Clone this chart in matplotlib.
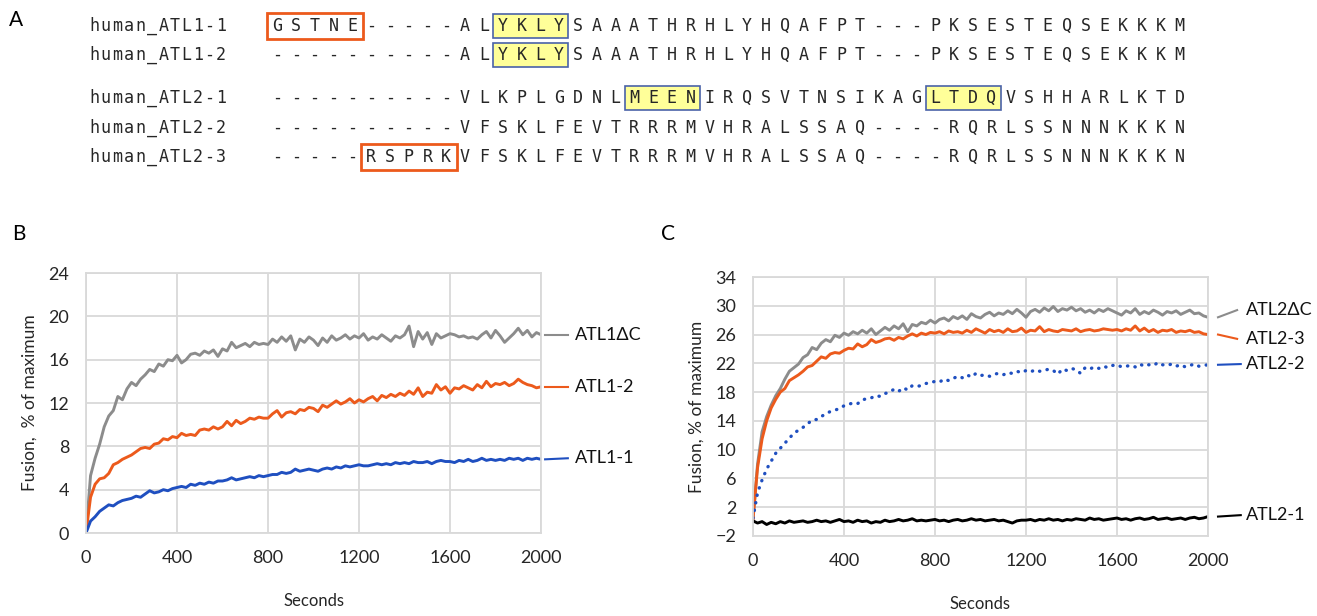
import matplotlib.pyplot as plt
from matplotlib.patches import Rectangle
from matplotlib.transforms import blended_transform_factory
import numpy as np

# ---- panel A: alignment ----
names = ["human_ATL1-1", "human_ATL1-2", "human_ATL2-1", "human_ATL2-2", "human_ATL2-3"]
seqs = [
    "GSTNE-----ALYKLYSAAATHRHLYHQAFPT---PKSESTEQSEKKKM",
    "----------ALYKLYSAAATHRHLYHQAFPT---PKSESTEQSEKKKM",
    "----------VLKPLGDNLMEENIRQSVTNSIKAGLTDQVSHHARLKTD",
    "----------VFSKLFEVTRRRMVHRALSSAQ----RQRLSSNNNKKKN",
    "-----RSPRKVFSKLFEVTRRRMVHRALSSAQ----RQRLSSNNNKKKN",
]
# (row, first residue, last residue)
motif_boxes = [(0, 12, 15), (1, 12, 15), (2, 19, 22), (2, 35, 38)]
extra_boxes = [(0, 0, 4), (4, 5, 9)]

# ---- panel B ----
secs = np.arange(0, 2001, 20)
atl1_dc = [0.0, 5.3, 6.9, 8.2, 9.8, 10.8, 11.3, 12.6, 12.3, 13.3,
           13.9, 13.6, 14.2, 14.6, 15.1, 14.9, 15.6, 15.4, 16.0, 15.9,
           16.4, 15.7, 16.0, 16.5, 16.6, 16.4, 16.8, 16.6, 16.9, 16.3,
           17.0, 16.8, 17.6, 17.1, 17.3, 17.5, 17.2, 17.6, 17.4, 17.5,
           17.4, 17.9, 17.6, 18.1, 17.7, 18.2, 16.9, 17.9, 17.6, 18.1,
           17.8, 17.3, 18.0, 17.6, 18.2, 17.8, 18.0, 18.3, 17.9, 18.2,
           18.0, 18.4, 17.8, 18.1, 17.9, 18.3, 18.0, 17.7, 18.2, 18.0,
           18.3, 19.1, 17.2, 18.6, 17.9, 18.5, 17.4, 18.4, 18.0, 18.2,
           18.4, 18.3, 18.1, 18.2, 18.0, 18.1, 17.9, 18.3, 18.6, 18.0,
           18.7, 18.2, 17.6, 18.0, 18.4, 18.9, 18.3, 18.7, 18.1, 18.5,
           18.3]
atl1_2 = [0.0, 3.3, 4.5, 5.0, 5.1, 5.5, 6.3, 6.5, 6.8, 7.0,
          7.2, 7.5, 7.8, 7.9, 7.8, 8.2, 8.3, 8.7, 8.6, 8.9,
          8.8, 9.2, 9.0, 9.1, 9.0, 9.5, 9.6, 9.5, 9.8, 9.6,
          9.8, 10.3, 9.9, 10.4, 10.1, 10.3, 10.6, 10.5, 10.7, 10.6,
          10.6, 11.0, 11.3, 10.7, 11.1, 11.2, 11.0, 11.4, 11.3, 11.6,
          11.5, 11.2, 11.8, 11.6, 11.9, 12.2, 11.9, 12.1, 12.4, 12.0,
          12.3, 12.1, 12.4, 12.6, 12.2, 12.7, 12.5, 12.8, 12.6, 12.9,
          12.7, 13.1, 12.8, 13.4, 12.6, 13.0, 12.9, 13.7, 13.2, 13.5,
          12.9, 13.4, 13.3, 13.6, 13.4, 13.2, 13.7, 13.4, 14.0, 13.5,
          13.8, 13.7, 13.9, 13.6, 13.8, 14.2, 13.9, 13.7, 13.6, 13.4,
          13.5]
atl1_1 = [0.0, 1.1, 1.5, 2.0, 2.3, 2.6, 2.5, 2.8, 3.0, 3.1,
          3.2, 3.4, 3.3, 3.6, 3.9, 3.7, 3.8, 4.0, 3.9, 4.1,
          4.2, 4.3, 4.2, 4.5, 4.4, 4.6, 4.5, 4.7, 4.6, 4.8,
          4.8, 4.9, 5.1, 4.9, 5.0, 5.1, 5.2, 5.1, 5.3, 5.2,
          5.3, 5.4, 5.4, 5.6, 5.5, 5.6, 5.9, 5.7, 5.8, 5.9,
          5.8, 5.7, 5.9, 6.0, 5.9, 6.1, 6.0, 6.2, 6.1, 6.2,
          6.3, 6.2, 6.2, 6.3, 6.4, 6.3, 6.4, 6.3, 6.5, 6.4,
          6.5, 6.4, 6.6, 6.5, 6.5, 6.6, 6.4, 6.6, 6.7, 6.6,
          6.6, 6.5, 6.7, 6.6, 6.8, 6.6, 6.7, 6.9, 6.7, 6.8,
          6.7, 6.8, 6.7, 6.9, 6.8, 6.9, 6.7, 6.9, 6.8, 6.9,
          6.8]

# ---- panel C ----
atl2_dc = [0.3, 8.0, 12.5, 14.6, 16.2, 17.5, 18.5, 19.8, 20.9, 21.4,
           21.9, 22.8, 23.2, 24.2, 23.9, 24.8, 25.3, 25.0, 25.9, 25.6,
           26.2, 25.9, 26.4, 26.1, 26.6, 26.2, 26.8, 26.0, 26.5, 27.0,
           26.6, 27.2, 26.8, 27.5, 26.4, 27.4, 27.2, 27.7, 27.5, 28.0,
           27.6, 28.1, 28.3, 27.9, 28.5, 28.2, 28.6, 28.1, 28.9, 28.5,
           28.3, 28.8, 29.1, 28.6, 29.0, 28.8, 29.3, 28.9, 29.5, 29.0,
           28.4, 29.2, 29.5, 29.1, 29.7, 29.3, 29.9, 29.2, 29.6, 29.4,
           29.8, 29.3, 29.6, 29.1, 29.4, 29.0, 29.5, 29.2, 29.6, 29.3,
           29.0, 28.7, 29.3, 29.0, 29.6, 28.8, 29.2, 28.9, 29.4, 29.1,
           28.7, 29.2, 29.0, 29.3, 28.8, 29.1, 29.4, 28.9, 29.0, 28.6,
           28.4]
atl2_3 = [0.3, 7.5, 11.5, 14.0, 15.8, 17.0, 18.0, 18.5, 19.6, 20.0,
          20.4, 20.9, 21.5, 21.7, 22.3, 22.9, 22.7, 23.3, 23.5, 23.4,
          23.8, 24.1, 24.0, 24.7, 24.3, 24.6, 25.3, 24.9, 25.1, 25.4,
          25.5, 25.2, 25.6, 25.4, 25.8, 26.1, 25.8, 26.2, 26.0, 26.3,
          26.2, 26.4, 26.1, 26.5, 26.3, 26.4, 26.2, 26.6, 26.3, 26.8,
          26.5, 26.2, 26.7, 26.4, 26.6, 26.3, 26.8, 26.4, 26.5, 26.9,
          26.3, 26.6, 26.5, 27.1, 26.4, 26.7, 26.5, 26.4, 26.7, 26.6,
          26.5, 26.8, 26.4, 26.6, 26.7, 26.5, 26.6, 26.8, 26.7, 26.6,
          26.7, 26.5, 26.8, 26.6, 27.2, 26.5, 26.9, 26.4, 26.7, 26.3,
          26.6, 26.5, 26.7, 26.3, 26.5, 26.4, 26.6, 26.3, 26.4, 26.1,
          26.0]
atl2_2 = [0.5, 4.0, 5.8, 7.3, 8.4, 9.5, 10.2, 10.9, 11.6, 12.3,
          12.7, 13.1, 13.6, 14.1, 14.2, 14.6, 15.0, 15.3, 15.5, 15.7,
          16.1, 16.3, 16.5, 16.4, 16.9, 17.1, 17.2, 17.5, 17.4, 17.8,
          18.0, 18.4, 18.1, 18.6, 18.3, 18.9, 18.8, 18.9, 19.2, 19.3,
          19.5, 19.4, 19.8, 19.6, 19.9, 20.2, 20.0, 20.4, 20.1, 20.6,
          20.3, 20.4, 20.2, 20.5, 20.6, 20.4, 20.7, 20.6, 20.9, 20.7,
          21.0, 20.8, 21.1, 20.9, 21.0, 21.2, 21.0, 20.5, 21.2, 21.0,
          21.3, 21.1, 20.6, 21.4, 21.2, 21.5, 21.3, 21.6, 21.4, 21.7,
          21.8, 21.5, 21.6, 21.7, 21.5, 21.9, 21.6, 21.8, 21.7, 22.1,
          21.8, 21.7, 21.9, 21.6, 21.8, 21.5, 21.7, 21.9, 21.6, 21.7,
          21.8]
atl2_1 = [0.1, -0.2, 0.0, -0.4, -0.1, -0.3, 0.0, -0.2, 0.1, -0.1,
          0.0, 0.1, -0.1, 0.0, 0.2, 0.0, 0.1, -0.1, 0.1, 0.3,
          0.0, 0.1, -0.1, 0.2, 0.0, 0.1, -0.2, 0.0, -0.1, 0.2,
          0.0, 0.1, 0.3, 0.1, 0.2, 0.4, 0.1, 0.2, 0.1, 0.2,
          0.3, 0.1, 0.2, 0.0, 0.2, 0.3, 0.1, 0.2, 0.4, 0.2,
          0.3, 0.1, 0.2, 0.3, 0.1, 0.2, 0.0, -0.2, 0.1, 0.2,
          0.2, 0.3, 0.1, 0.3, 0.2, 0.4, 0.2, 0.3, 0.1, 0.3,
          0.2, 0.4, 0.3, 0.2, 0.5, 0.3, 0.4, 0.2, 0.3, 0.4,
          0.5, 0.3, 0.4, 0.2, 0.4, 0.5, 0.3, 0.4, 0.6, 0.3,
          0.4, 0.5, 0.3, 0.4, 0.5, 0.3, 0.5, 0.6, 0.4, 0.5,
          0.7]

GRAY = '#8c8c8c'
ORANGE = '#ec5a1c'
BLUE = '#1f4fc0'
GRID = '#d9d9d9'
TXT = '#262626'
FONT = ['Lato', 'DejaVu Sans']
MONO = 'DejaVu Sans Mono'

fig = plt.figure(figsize=(13.17, 6.16), dpi=100)
fig.patch.set_facecolor('white')

# overlay in pixel units for panel A and panel letters
ov = fig.add_axes([0, 0, 1, 1])
ov.set_xlim(0, 1317)
ov.set_ylim(616, 0)
ov.axis('off')

row_y = [26, 55, 98, 128, 157]
x0, step = 277, 18.8
for r, b0, b1 in motif_boxes:
    ov.add_patch(Rectangle((x0 + b0 * step - step / 2, row_y[r] - 12), (b1 - b0 + 1) * step, 24,
                           facecolor='#ffff99', edgecolor='#4a62a8', lw=1.2, zorder=1))
for r, b0, b1 in extra_boxes:
    ov.add_patch(Rectangle((x0 + b0 * step - step / 2 - 1, row_y[r] - 13), (b1 - b0 + 1) * step + 2, 26,
                           facecolor='none', edgecolor=ORANGE, lw=2, zorder=3))
for r, (nm, sq) in enumerate(zip(names, seqs)):
    for i, ch in enumerate(nm):
        ov.text(89 + 5 + i * 11.55, row_y[r], ch, family=MONO, fontsize=12,
                ha='center', va='center', color=TXT)
    for i, ch in enumerate(sq):
        ov.text(x0 + i * step, row_y[r], ch, family=MONO, fontsize=12,
                ha='center', va='center', color=TXT, zorder=2)

ov.text(16, 20, 'A', family=FONT, fontsize=15, ha='center', va='center')
ov.text(19, 234, 'B', family=FONT, fontsize=15, ha='center', va='center')
ov.text(668, 234, 'C', family=FONT, fontsize=15, ha='center', va='center')


def style_axes(ax, ylim, yticks, ylabel):
    ax.set_xlim(0, 2000)
    ax.set_ylim(*ylim)
    ax.set_xticks([0, 400, 800, 1200, 1600, 2000])
    ax.set_yticks(yticks)
    ax.grid(True, color=GRID, lw=1.3)
    ax.set_axisbelow(True)
    for s in ax.spines.values():
        s.set_color(GRID)
        s.set_linewidth(1.3)
    ax.tick_params(length=0, labelsize=13, pad=12)
    for lab in ax.get_xticklabels() + ax.get_yticklabels():
        lab.set_family(FONT)
        lab.set_color(TXT)
    ax.set_ylabel(ylabel, family=FONT, fontsize=12.5, color=TXT, labelpad=8)
    ax.set_xlabel('Seconds', family=FONT, fontsize=12, color=TXT, labelpad=20)


def series_label(ax, yend, ylab, text, color, x1, x2, xt):
    tr = blended_transform_factory(ax.transAxes, ax.transData)
    ax.plot([x1, x2], [yend, ylab], color=color, lw=1.5, transform=tr, clip_on=False)
    ax.text(xt, ylab, text, transform=tr, family=FONT, fontsize=13,
            va='center', ha='left', color='#111111')


# ---- B ----
axB = fig.add_axes([86 / 1317, 83 / 616, 455 / 1317, 260 / 616])
axB.plot(secs, atl1_dc, color=GRAY, lw=2.1)
axB.plot(secs, atl1_2, color=ORANGE, lw=2.1)
axB.plot(secs, atl1_1, color=BLUE, lw=2.1)
style_axes(axB, (0, 24), [0, 4, 8, 12, 16, 20, 24], 'Fusion,  % of maximum')
series_label(axB, atl1_dc[-1], 18.3, 'ATL1\u0394C', GRAY, 1.009, 1.059, 1.074)
series_label(axB, atl1_2[-1], 13.5, 'ATL1-2', ORANGE, 1.009, 1.059, 1.074)
series_label(axB, atl1_1[-1], 6.9, 'ATL1-1', BLUE, 1.009, 1.059, 1.074)

# ---- C ----
axC = fig.add_axes([753 / 1317, 80 / 616, 455 / 1317, 259 / 616])
axC.plot(secs, atl2_dc, color=GRAY, lw=2.1)
axC.plot(secs, atl2_3, color=ORANGE, lw=2.1)
axC.plot(secs, atl2_2, color=BLUE, lw=2.4, linestyle=(0, (0.1, 2.2)), dash_capstyle='round')
axC.plot(secs, atl2_1, color='black', lw=2.1)
style_axes(axC, (-2, 34), [-2, 2, 6, 10, 14, 18, 22, 26, 30, 34], 'Fusion, % of maximum')
series_label(axC, atl2_dc[-1], 29.4, 'ATL2\u0394C', GRAY, 1.022, 1.064, 1.084)
series_label(axC, atl2_3[-1], 25.4, 'ATL2-3', ORANGE, 1.022, 1.064, 1.084)
series_label(axC, atl2_2[-1], 21.9, 'ATL2-2', BLUE, 1.022, 1.072, 1.084)
series_label(axC, atl2_1[-1], 0.9, 'ATL2-1', 'black', 1.022, 1.072, 1.084)

fig.savefig('out.png', dpi=100, facecolor='white')
